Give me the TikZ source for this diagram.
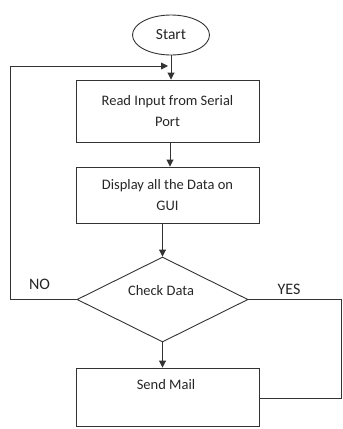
\documentclass[tikz,border=0pt]{standalone}
\usepackage{fontspec}
\setmainfont{Carlito}
\usetikzlibrary{arrows.meta,shapes.geometric}
\begin{document}
\begin{tikzpicture}[x=1pt,y=-1pt,
  line/.style={draw=black!80,line width=0.9pt},
  arr/.style={line,-{Triangle[length=7pt,width=7pt]}},
  txt/.style={font=\fontsize{14.5}{21}\selectfont,text=black!85},
  procbox/.style={line,rectangle,minimum width=183pt,inner sep=0pt,align=center,txt},
  lbl/.style={font=\fontsize{16}{18}\selectfont,text=black!85}]
\useasboundingbox (0,0) rectangle (343,429);
% terminal
\node[line,ellipse,minimum width=77pt,minimum height=40pt,inner sep=0pt,font=\fontsize{15.5}{18}\selectfont,text=black!85] (start) at (171,35) {Start};
% process steps
\node[procbox,minimum height=62pt] (read) at (167.5,111) {Read Input from Serial\\Port};
\node[procbox,minimum height=56pt] (disp) at (167.5,195) {Display all the Data on\\GUI};
\node[line,diamond,minimum width=171pt,minimum height=85pt,inner sep=0pt,aspect=2] (check) at (162.5,299.5) {};
\node[txt] (checktxt) at (161,291) {Check Data};
\node[procbox,minimum height=58pt] (mail) at (167.5,397) {};
\node[txt] (mailtxt) at (166,385) {Send Mail};
% connectors
\coordinate (loopend) at (168,66);
\coordinate (nl) at (10.5,299.5);
\coordinate (nt) at (10.5,66);
\coordinate (yr) at (341.5,299.5);
\coordinate (yb) at (341.5,398);
\draw[arr] (start.south) -- (start.south |- read.north);
\draw[arr] (read.south -| 170,0) -- (disp.north -| 170,0);
\draw[arr] (disp.south -| check.north) -- (check.north);
\draw[arr] (check.south) -- (check.south |- mail.north);
\draw[arr] (check.west) -- (nl) -- (nt) -- (loopend);
\draw[line] (check.east) -- (yr) -- (yb) -- (mail.east |- yb);
% branch labels
\node[lbl] (no) at (39.5,284) {NO};
\node[lbl] (yes) at (289,289) {YES};
\end{tikzpicture}
\end{document}
